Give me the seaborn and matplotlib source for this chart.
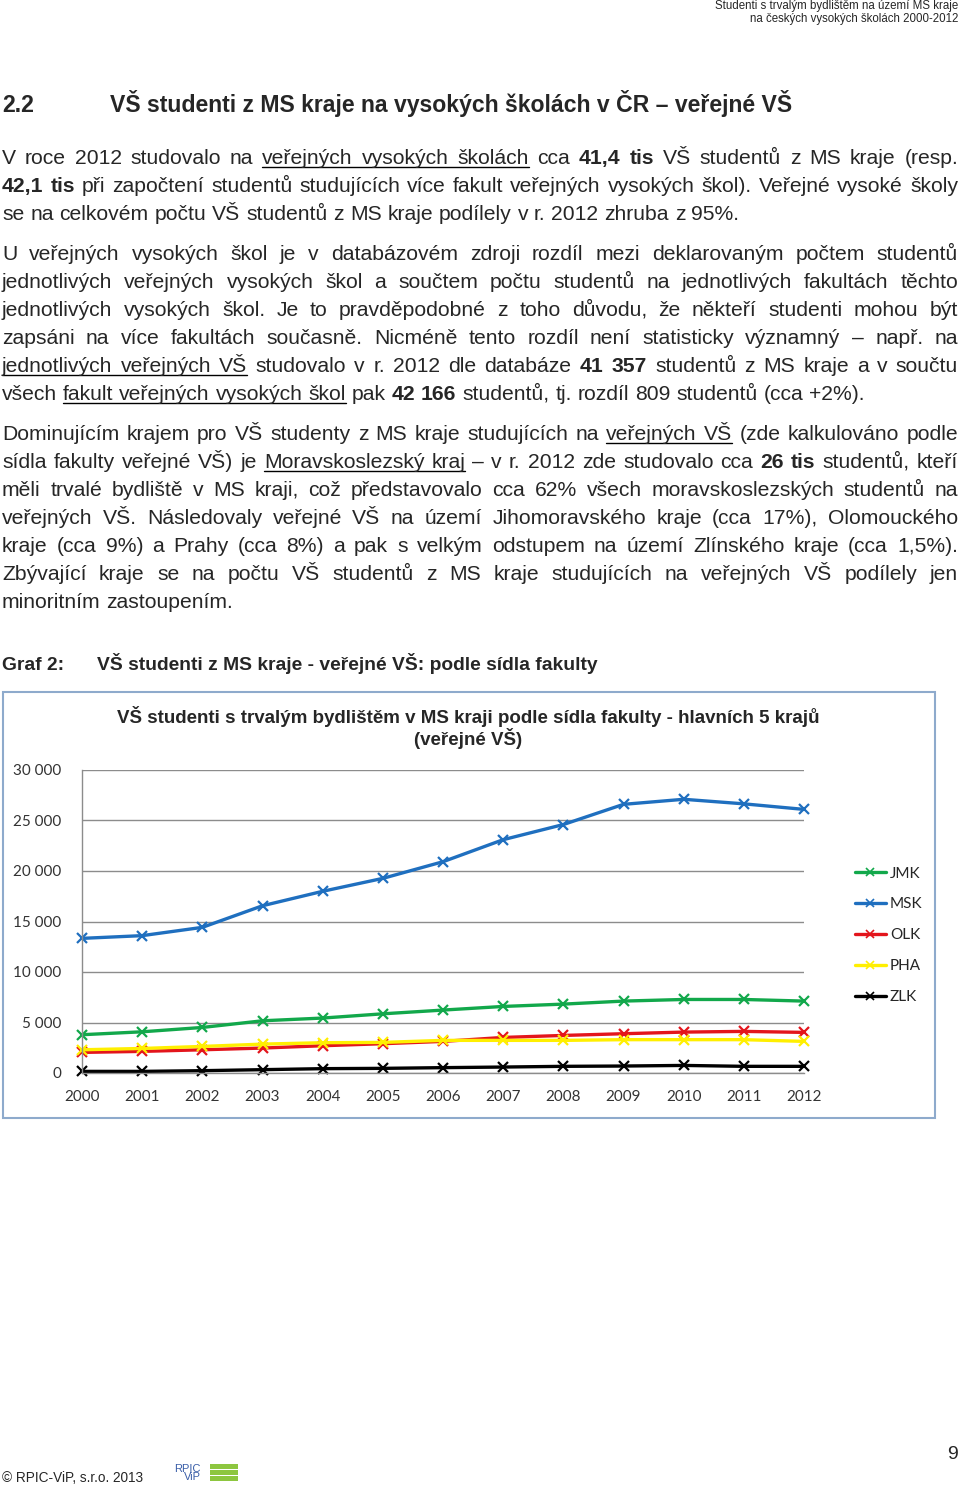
import matplotlib
matplotlib.use("Agg")
import matplotlib.pyplot as plt
import matplotlib.patches as patches
from matplotlib.lines import Line2D
from matplotlib.ticker import FuncFormatter
import pandas as pd
import seaborn as sns

# chart data
years = list(range(2000, 2013))
jmk = [3790, 4080, 4510, 5170, 5440, 5860, 6230, 6590, 6820, 7120, 7280, 7280, 7120]
msk = [13330, 13600, 14420, 16560, 17990, 19270, 20920, 23100, 24600, 26600, 27100, 26650, 26100]
olk = [2040, 2140, 2300, 2470, 2700, 2900, 3130, 3520, 3720, 3890, 4050, 4120, 4020]
pha = [2300, 2430, 2630, 2860, 3000, 3030, 3230, 3230, 3230, 3300, 3300, 3300, 3130]
zlk = [160, 160, 230, 330, 430, 460, 530, 590, 660, 690, 750, 660, 660]
regions = ["JMK", "MSK", "OLK", "PHA", "ZLK"]
colors = ["#12a84b", "#1f6fbf", "#e3151c", "#ffef00", "#000000"]
y_ticks = [0, 5000, 10000, 15000, 20000, 25000, 30000]

chart_title = ["VŠ studenti s trvalým bydlištěm v MS kraji podle sídla fakulty - hlavních 5 krajů",
               "(veřejné VŠ)"]

# page text: each line is a list of (text, style) runs, style "b" bold, "u" underline
para1 = [
    [("V roce 2012 studovalo na ", ""), ("veřejných vysokých školách", "u"), (" cca ", ""),
     ("41,4 tis", "b"), (" VŠ studentů z MS kraje (resp.", "")],
    [("42,1 tis", "b"), (" při započtení studentů studujících více fakult veřejných vysokých škol). Veřejné vysoké školy", "")],
    [("se na celkovém počtu VŠ studentů z MS kraje podílely v r. 2012 zhruba z 95%.", "")],
]
para2 = [
    [("U veřejných vysokých škol je v databázovém zdroji rozdíl mezi deklarovaným počtem studentů", "")],
    [("jednotlivých veřejných vysokých škol a součtem počtu studentů na jednotlivých fakultách těchto", "")],
    [("jednotlivých vysokých škol. Je to pravděpodobné z toho důvodu, že někteří studenti mohou být", "")],
    [("zapsáni na více fakultách současně. Nicméně tento rozdíl není statisticky významný – např. na", "")],
    [("jednotlivých veřejných VŠ", "u"), (" studovalo v r. 2012 dle databáze ", ""), ("41 357", "b"),
     (" studentů z MS kraje a v součtu", "")],
    [("všech ", ""), ("fakult veřejných vysokých škol", "u"), (" pak ", ""), ("42 166", "b"),
     (" studentů, tj. rozdíl 809 studentů (cca +2%).", "")],
]
para3 = [
    [("Dominujícím krajem pro VŠ studenty z MS kraje studujících na ", ""), ("veřejných VŠ", "u"),
     (" (zde kalkulováno podle", "")],
    [("sídla fakulty veřejné VŠ) je ", ""), ("Moravskoslezský kraj", "u"),
     (" – v r. 2012 zde studovalo cca ", ""), ("26 tis", "b"), (" studentů, kteří", "")],
    [("měli trvalé bydliště v MS kraji, což představovalo cca 62% všech moravskoslezských studentů na", "")],
    [("veřejných VŠ. Následovaly veřejné VŠ na území Jihomoravského kraje (cca 17%), Olomouckého", "")],
    [("kraje (cca 9%) a Prahy (cca 8%) a pak s velkým odstupem na území Zlínského kraje (cca 1,5%).", "")],
    [("Zbývající kraje se na počtu VŠ studentů z MS kraje studujících na veřejných VŠ podílely jen", "")],
    [("minoritním zastoupením.", "")],
]

sns.set_style("white")
FONT = ["Liberation Sans", "DejaVu Sans"]
CFONT = ["Lato", "DejaVu Sans"]
plt.rcParams["font.family"] = FONT

W, H = 960, 1486
fig = plt.figure(figsize=(W / 100, H / 100), dpi=100)
renderer = fig.canvas.get_renderer()
BODY = 15.2


def put(x, y, s, size=BODY, weight="normal", ha="left", family=FONT, **kw):
    return fig.text(x / W, 1 - y / H, s, fontsize=size, fontweight=weight, ha=ha,
                    va="baseline", family=family, **kw)


def width(s, weight="normal", size=BODY):
    t = put(0, 0, s, size=size, weight=weight)
    w = t.get_window_extent(renderer).width
    t.remove()
    return w


def text_line(runs, y, justify=True, x0=2, x1=958):
    words = []
    for txt, st in runs:
        for w in txt.split():
            words.append((w, st))
    ws = [width(w, "bold" if "b" in st else "normal") for w, st in words]
    space = width("a a") - width("aa")
    gap = (x1 - x0 - sum(ws)) / (len(words) - 1) if justify else space
    x = x0
    ul_start = None
    for i, ((w, st), wd) in enumerate(zip(words, ws)):
        put(x, y, w, weight="bold" if "b" in st else "normal")
        if "u" in st:
            if ul_start is None:
                ul_start = x
            nxt_u = i + 1 < len(words) and "u" in words[i + 1][1]
            if not nxt_u:
                fig.add_artist(Line2D([ul_start / W, (x + wd) / W],
                                      [1 - (y + 3) / H, 1 - (y + 3) / H],
                                      color="black", lw=1))
                ul_start = None
        x += wd + gap


def paragraph(lines, y0, step=28):
    for i, runs in enumerate(lines):
        text_line(runs, y0 + i * step, justify=(i < len(lines) - 1))


# header
put(958, 9, "Studenti s trvalým bydlištěm na území MS kraje", size=8.3, ha="right")
put(958, 22, "na českých vysokých školách 2000-2012", size=8.3, ha="right")

# heading
put(2, 112, "2.2", size=16.6, weight="bold")
put(110, 112, "VŠ studenti z MS kraje na vysokých školách v ČR – veřejné VŠ", size=16.6, weight="bold")

paragraph(para1, 164)
paragraph(para2, 260)
paragraph(para3, 440)

put(2, 670, "Graf 2:", size=13.9, weight="bold")
put(97, 670, "VŠ studenti z MS kraje - veřejné VŠ: podle sídla fakulty", size=13.9, weight="bold")

# chart frame
fig.patches.append(patches.Rectangle((3 / W, 1 - 1118 / H), 932 / W, 426 / H,
                                     transform=fig.transFigure, fill=False,
                                     edgecolor="#8eaacc", lw=1.5))
put(468, 723, chart_title[0], size=13.5, weight="bold", ha="center")
put(468, 745, chart_title[1], size=13.5, weight="bold", ha="center")

# chart
df = pd.DataFrame({
    "year": years * 5,
    "value": jmk + msk + olk + pha + zlk,
    "region": [r for r in regions for _ in years],
})
palette = dict(zip(regions, colors))

ax = fig.add_axes([82 / W, 1 - 1073 / H, (804 - 82) / W, (1073 - 770) / H])
sns.lineplot(data=df, x="year", y="value", hue="region", hue_order=regions,
             palette=palette, marker="x", markersize=7, markeredgewidth=1.6,
             linewidth=2.4, ax=ax, legend=False, clip_on=False)
for line in ax.lines:
    line.set_markeredgecolor(line.get_color())
ax.set_xlim(2000, 2012)
ax.set_ylim(0, 30000)
ax.set_xticks(years)
ax.set_yticks(y_ticks)
ax.yaxis.set_major_formatter(FuncFormatter(lambda v, p: f"{int(v):,}".replace(",", " ")))
ax.set_xlabel("")
ax.set_ylabel("")
ax.grid(axis="y", color="#8c8c8c", lw=1)
ax.grid(axis="x", visible=False)
ax.set_axisbelow(True)
for side in ["top", "right"]:
    ax.spines[side].set_visible(False)
for side in ["left", "bottom"]:
    ax.spines[side].set_color("#8c8c8c")
    ax.spines[side].set_linewidth(1)
ax.tick_params(axis="y", length=4, width=1, color="#8c8c8c", pad=11)
ax.tick_params(axis="x", length=4, width=1, color="#8c8c8c", pad=8)
for lab in ax.get_xticklabels() + ax.get_yticklabels():
    lab.set_family(CFONT)
    lab.set_fontsize(11)
    lab.set_color("#333333")

handles = [Line2D([], [], color=c, lw=2.4, marker="x", markersize=6, markeredgewidth=1.2,
                  markeredgecolor=c)
           for c in colors]
leg = fig.legend(handles, regions, loc="upper left", bbox_to_anchor=(847 / W, 1 - 859 / H),
                 frameon=False, borderpad=0, handlelength=2.05, handletextpad=0.25,
                 labelspacing=1.1, prop={"family": CFONT, "size": 11})

# footer
put(2, 1482, "© RPIC-ViP, s.r.o. 2013", size=9.8)
put(201, 1471.5, "RPIC", size=8, ha="right", color="#3a5ea8")
put(201, 1480, "ViP", size=8, ha="right", color="#3a5ea8")
for yy in [1464, 1470, 1476]:
    fig.patches.append(patches.Rectangle((210 / W, 1 - (yy + 5) / H), 28 / W, 5 / H,
                                         transform=fig.transFigure, color="#8dc63f", lw=0))
put(952, 1459, "9", size=14, ha="center")

fig.savefig("out.png", dpi=100)
